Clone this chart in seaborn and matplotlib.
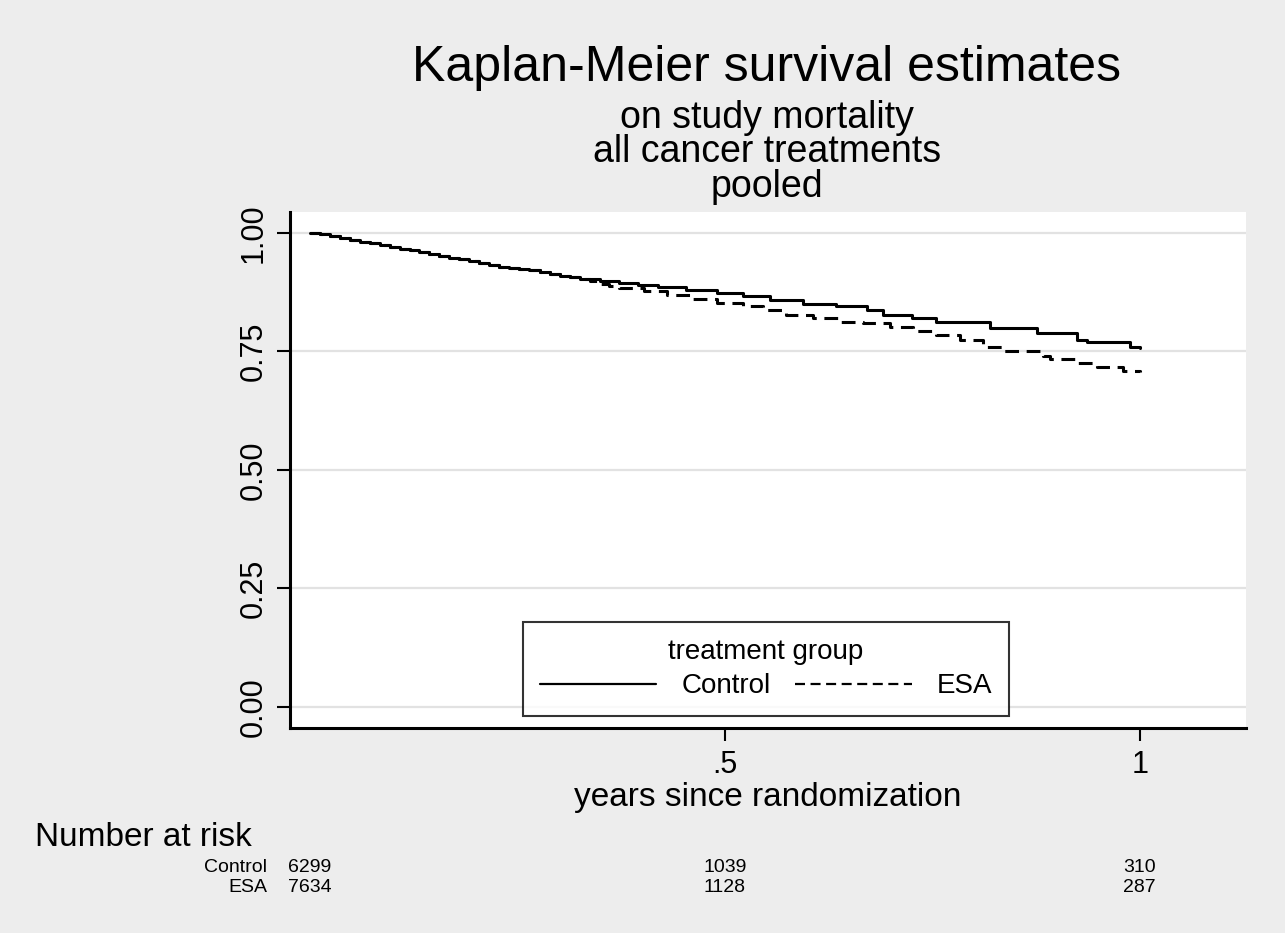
import matplotlib
matplotlib.use("Agg")
import matplotlib.pyplot as plt
import matplotlib.transforms as mtransforms
import seaborn as sns

# Kaplan-Meier estimates (years, survival)
control_t = [0, 0.012, 0.024, 0.036, 0.048, 0.060, 0.072, 0.084, 0.096, 0.108,
             0.120, 0.132, 0.144, 0.156, 0.168, 0.180, 0.192, 0.204, 0.216, 0.228,
             0.240, 0.252, 0.264, 0.277, 0.289, 0.301, 0.313, 0.325, 0.349, 0.373,
             0.395, 0.420, 0.453, 0.490, 0.522, 0.554, 0.594, 0.634, 0.671, 0.690,
             0.725, 0.755, 0.819, 0.876, 0.924, 0.936, 0.988, 1.0]
control_s = [1.0, 0.997, 0.993, 0.989, 0.985, 0.981, 0.978, 0.975, 0.971, 0.967,
             0.963, 0.959, 0.955, 0.952, 0.948, 0.944, 0.940, 0.936, 0.932, 0.929,
             0.926, 0.923, 0.921, 0.918, 0.914, 0.910, 0.906, 0.902, 0.899, 0.894,
             0.889, 0.886, 0.880, 0.873, 0.866, 0.859, 0.850, 0.845, 0.838, 0.827,
             0.820, 0.811, 0.799, 0.788, 0.774, 0.770, 0.760, 0.757]

esa_t = [0, 0.012, 0.024, 0.036, 0.048, 0.060, 0.072, 0.084, 0.096, 0.108,
         0.120, 0.132, 0.144, 0.156, 0.168, 0.180, 0.192, 0.204, 0.216, 0.228,
         0.240, 0.252, 0.264, 0.277, 0.289, 0.301, 0.313, 0.325, 0.337, 0.349,
         0.361, 0.373, 0.402, 0.430, 0.462, 0.490, 0.522, 0.546, 0.574, 0.606,
         0.638, 0.666, 0.699, 0.727, 0.755, 0.783, 0.811, 0.835, 0.883, 0.892,
         0.924, 0.948, 0.980, 1.0]
esa_s = [1.0, 0.997, 0.993, 0.989, 0.985, 0.981, 0.978, 0.975, 0.971, 0.967,
         0.963, 0.959, 0.955, 0.952, 0.948, 0.944, 0.940, 0.936, 0.932, 0.929,
         0.926, 0.923, 0.921, 0.918, 0.914, 0.910, 0.906, 0.902, 0.898, 0.892,
         0.888, 0.883, 0.878, 0.868, 0.860, 0.852, 0.845, 0.838, 0.827, 0.821,
         0.813, 0.809, 0.802, 0.792, 0.785, 0.774, 0.760, 0.750, 0.740, 0.733,
         0.726, 0.718, 0.709, 0.707]

# number at risk table
risk_times = [0, 0.5, 1.0]
risk_control = [6299, 1039, 310]
risk_esa = [7634, 1128, 287]

yticks = [0.0, 0.25, 0.5, 0.75, 1.0]
ytick_labels = ["0.00", "0.25", "0.50", "0.75", "1.00"]
xticks = [0.5, 1.0]
xtick_labels = [".5", "1"]

sns.set_style("white")
plt.rcParams["font.family"] = ["Liberation Sans", "DejaVu Sans"]
plt.rcParams["text.color"] = "black"
plt.rcParams["axes.labelcolor"] = "black"
plt.rcParams["xtick.color"] = "black"
plt.rcParams["ytick.color"] = "black"

bg = "#EDEDED"
fig = plt.figure(figsize=(12.85, 9.33), dpi=100, facecolor=bg)
ax = fig.add_axes([290 / 1285, 1 - 728 / 933, 956 / 1285, 516 / 933])
ax.set_facecolor("white")

# horizontal grid
for y in yticks:
    ax.axhline(y, color="#E2E2E2", lw=1.6, zorder=0)

sns.lineplot(x=control_t, y=control_s, drawstyle="steps-post", color="black",
             lw=2.2, label="Control", ax=ax)
sns.lineplot(x=esa_t, y=esa_s, drawstyle="steps-post", color="black",
             lw=2.2, linestyle=(0, (4.5, 2.5)), label="ESA", ax=ax)

ax.set_xlim(-0.024, 1.128)
ax.set_ylim(-0.0443, 1.044)
ax.set_yticks(yticks)
ax.set_yticklabels(ytick_labels, rotation=90, va="center", fontsize=22)
ax.set_xticks(xticks)
ax.set_xticklabels(xtick_labels, fontsize=22)
ax.tick_params(axis="both", direction="out", length=9.5, width=1.5,
               color="black", pad=6)
ax.tick_params(axis="both", which="both", left=True, bottom=True)

for side in ["top", "right"]:
    ax.spines[side].set_visible(False)
for side in ["left", "bottom"]:
    ax.spines[side].set_color("black")
    ax.spines[side].set_linewidth(2.2)

ax.set_xlabel("years since randomization", fontsize=24, labelpad=2)
ax.set_ylabel("")

leg = ax.legend(title="treatment group", ncol=2, loc="lower center",
                bbox_to_anchor=(0.498, 0.023), borderaxespad=0,
                fontsize=20, title_fontsize=20, handlelength=4.2,
                handletextpad=0.9, columnspacing=0.9, frameon=True,
                fancybox=False, borderpad=0.6, labelspacing=0.3)
leg.get_frame().set_edgecolor("black")
leg.get_frame().set_linewidth(1.5)
for h in leg.get_lines():
    h.set_linewidth(1.6)

# titles
fig.text(767 / 1285, 1 - 68 / 933, "Kaplan-Meier survival estimates",
         ha="center", va="center", fontsize=36)
subs = ["on study mortality", "all cancer treatments", "pooled"]
for i, s in enumerate(subs):
    fig.text(767 / 1285, 1 - (118 + 34.5 * i) / 933, s,
             ha="center", va="center", fontsize=27)

# number at risk
fig.text(35 / 1285, 1 - 837 / 933, "Number at risk", ha="left", va="center",
         fontsize=24)
trans = mtransforms.blended_transform_factory(ax.transData, fig.transFigure)
rows = [("Control", risk_control, 868), ("ESA", risk_esa, 887)]
for name, vals, ypix in rows:
    fig.text(267 / 1285, 1 - ypix / 933, name, ha="right", va="center",
             fontsize=14)
    for t, v in zip(risk_times, vals):
        ax.text(t, 1 - ypix / 933, str(v), transform=trans, ha="center",
                va="center", fontsize=14, clip_on=False)

fig.savefig("out.png", dpi=100, facecolor=bg)
